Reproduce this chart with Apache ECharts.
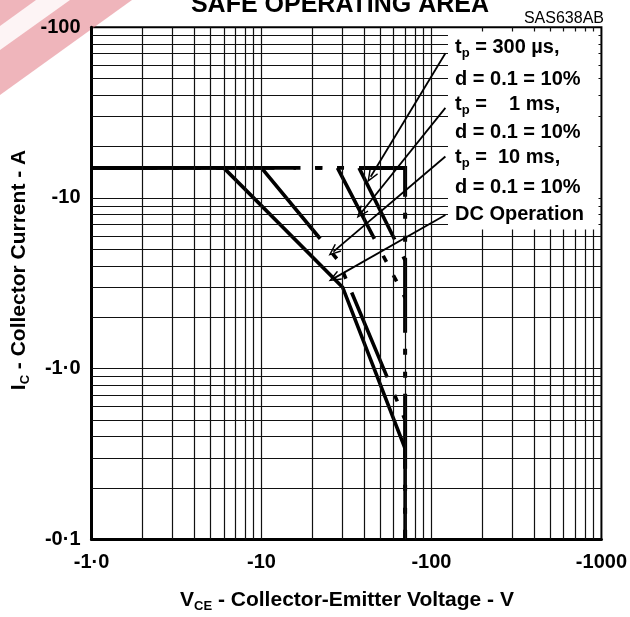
<!DOCTYPE html>
<html><head><meta charset="utf-8">
<script src="https://cdn.jsdelivr.net/npm/echarts@6/dist/echarts.min.js"></script>
<style>html,body{margin:0;padding:0;background:#fff}#c{width:630px;height:617px}</style>
</head><body><div id="c"></div>
<script>
// ---------- data (magnitudes; labels carry the minus sign) ----------
const xTickValues = [1, 10, 100, 1000];
const xTickLabels = ['-1·0', '-10', '-100', '-1000'];
const yTickValues = [0.1, 1, 10, 100];
const yTickLabels = ['-0·1', '-1·0', '-10', '-100'];

// [VCE (V), IC (A)]
const dcCurve      = [[1, 15], [6, 15], [30, 3.0], [70, 0.34], [70, 0.1]];
const tp10msCurve  = [[1, 15], [10, 15], [28.3, 4.3], [70, 0.5]];
const tp1msCurve   = [[1, 15], [28, 15], [70, 2.6]];
const tp300usCurve = [[1, 15], [37.5, 15], [70, 4.3]];
const vceoCurve    = [[37.5, 15], [70, 15], [70, 0.1]];

const arrowStarts = [[120.8, 70.4], [120.8, 33.7], [120.8, 17.5], [120.8, 7.95]];
const arrowEnds   = [[43.9, 13.3], [38.4, 8.14], [26.5, 4.85], [26.8, 3.39]];

const legendTexts = [
  '{a|t}{b|p}{a| = 300 µs,}',
  '{a|d = 0.1 = 10%}',
  '{a|t}{b|p}{a| =    1 ms,}',
  '{a|d = 0.1 = 10%}',
  '{a|t}{b|p}{a| =  10 ms,}',
  '{a|d = 0.1 = 10%}',
  '{a|DC Operation}'
];

const xGridValues = [];
for (let k = 0; k < 3; k++) for (let m = 2; m <= 10; m++) { if (k === 2 && m === 10) continue; xGridValues.push(m * Math.pow(10, k)); }
const yGridValues = [];
for (let k = -1; k < 2; k++) for (let m = 2; m <= 10; m++) { if (k === 1 && m === 10) continue; yGridValues.push(Math.round(m * Math.pow(10, k) * 10) / 10); }

// ---------- styling ----------
const FONT = 'Liberation Sans, Arial, Helvetica, sans-serif';
const PAT = [80, 19, 7, 15, 7, 15];
const PAT_B = [92, 19, 7, 15, 7, 15];
const PAT_V = [75, 16, 6, 17, 6, 16];
const dashCfg = {
  tp10ms: { data: tp10msCurve, vertex: 1, extra: 0, pat: PAT_B },
  tp1ms: { data: tp1msCurve, vertex: 1, extra: 0, pat: PAT },
  tp300us: { data: tp300usCurve, vertex: 1, extra: 0, pat: PAT },
  vceo: { data: vceoCurve, vertex: 0, extra: 0, pat: PAT_V }
};

function tickLabel(values, labels) {
  return function (v) {
    const lv = Math.round(Math.log10(v));
    for (let i = 0; i < values.length; i++) if (Math.round(Math.log10(values[i])) === lv) return labels[i];
    return '';
  };
}

const chart = echarts.init(document.getElementById('c'), null, { renderer: 'canvas' });

function curveSeries(id, data, width, pat, offset) {
  return {
    id: id, type: 'line', data: data, showSymbol: false, symbol: 'none', animation: false,
    silent: true, z: 3, clip: false,
    lineStyle: { color: '#000', width: width, type: pat || 'solid', dashOffset: offset || 0, cap: 'butt', join: 'miter' }
  };
}

const chevron = 'path://M5,0L10,12L8.7,12.7L5,3.6L1.3,12.7L0,12Z';
const richA = { fontSize: 21, fontWeight: 'bold', fontFamily: FONT, fill: '#000', lineHeight: 26 };
const richB = { fontSize: 13, fontWeight: 'bold', fontFamily: FONT, fill: '#000', lineHeight: 13, verticalAlign: 'bottom' };
const richLA = { fontSize: 20, fontWeight: 'bold', fontFamily: FONT, fill: '#000', lineHeight: 25 };
const richLB = { fontSize: 13, fontWeight: 'bold', fontFamily: FONT, fill: '#000', lineHeight: 13, verticalAlign: 'bottom' };

function buildOption(offsets) {
  return {
    animation: false,
    backgroundColor: '#fff',
    grid: { left: 91.5, right: 26.7, top: 27.3, bottom: 77.7, show: true, borderColor: '#000', borderWidth: 2, backgroundColor: 'transparent' },
    xAxis: {
      type: 'log', logBase: 10, min: 1, max: 1000,
      axisLine: { show: true, onZero: false, lineStyle: { color: '#000', width: 3 } },
      axisTick: { show: false }, splitLine: { show: false }, minorTick: { show: false },
      axisLabel: { formatter: tickLabel(xTickValues, xTickLabels), margin: 13, color: '#000', fontSize: 20, fontWeight: 'bold', fontFamily: FONT, showMinLabel: true, showMaxLabel: true }
    },
    yAxis: {
      type: 'log', logBase: 10, min: 0.1, max: 100,
      axisLine: { show: true, onZero: false, lineStyle: { color: '#000', width: 3 } },
      axisTick: { show: false }, splitLine: { show: false },
      axisLabel: { formatter: tickLabel(yTickValues, yTickLabels), margin: 11, color: '#000', fontSize: 20, fontWeight: 'bold', fontFamily: FONT, showMinLabel: true, showMaxLabel: true }
    },
    series: [
      {
        id: 'grid', type: 'line', data: [], z: 1, silent: true, animation: false,
        markLine: {
          silent: true, animation: false, symbol: ['none', 'none'], label: { show: false },
          lineStyle: { color: '#111', width: 1.2, type: 'solid' },
          data: xGridValues.map(v => ({ xAxis: v })).concat(yGridValues.map(v => ({ yAxis: v })))
        }
      },
      curveSeries('dc', dcCurve, 3.6),
      curveSeries('tp10ms', tp10msCurve, 3.6, PAT_B, offsets.tp10ms),
      curveSeries('tp1ms', tp1msCurve, 3.6, PAT, offsets.tp1ms),
      curveSeries('tp300us', tp300usCurve, 3.6, PAT, offsets.tp300us),
      curveSeries('vceo', vceoCurve, 4, PAT_V, offsets.vceo),
      {
        id: 'arrows', type: 'line', data: [], z: 4, silent: true, animation: false,
        markLine: {
          silent: true, animation: false, symbol: ['none', chevron], symbolSize: [10, 13],
          label: { show: false },
          lineStyle: { color: '#000', width: 1.8, type: 'solid' },
          data: arrowStarts.map((s, i) => [{ coord: s }, { coord: arrowEnds[i] }])
        }
      }
    ],
    graphic: [
      // watermark
      { type: 'polygon', z: 0, silent: true, shape: { points: [[0, 0], [132, 0], [0, 95]] }, style: { fill: 'rgba(226,120,132,0.55)' } },
      { type: 'polygon', z: 0, silent: true, shape: { points: [[36, 0], [70, 0], [0, 50], [0, 26]] }, style: { fill: 'rgba(255,255,255,0.85)' } },
      // white label box
      { type: 'rect', z: 100, silent: true, shape: { x: 448, y: 31.5, width: 150.5, height: 198 }, style: { fill: '#fff' } },
      // legend texts
      ...legendTexts.map((t, i) => ({
        type: 'text', z: 101, silent: true, x: 455, y: [47, 79, 104, 132, 157, 187, 214][i],
        style: { text: t, verticalAlign: 'middle', align: 'left', rich: { a: richLA, b: richLB } }
      })),
      // title (cut at top)
      { type: 'text', z: 101, silent: true, x: 340, y: 5, style: { text: 'SAFE OPERATING AREA', align: 'center', verticalAlign: 'middle', font: 'bold 25px ' + FONT, fill: '#000' } },
      { type: 'text', z: 101, silent: true, x: 604, y: 19, style: { text: 'SAS638AB', align: 'right', verticalAlign: 'middle', font: '16px ' + FONT, fill: '#000' } },
      // axis names
      {
        type: 'text', z: 101, silent: true, x: 347, y: 600,
        style: { text: '{a|V}{b|CE}{a| - Collector-Emitter Voltage - V}', align: 'center', verticalAlign: 'middle', rich: { a: richA, b: richB } }
      },
      {
        type: 'text', z: 101, silent: true, x: 19, y: 270, rotation: Math.PI / 2,
        style: { text: '{a|I}{b|C}{a| - Collector Current - A}', align: 'center', verticalAlign: 'middle', rich: { a: richA, b: richB } }
      }
    ]
  };
}

chart.setOption(buildOption({}));
// align dash patterns so the long dashes start where the reference shows them
const offsets = {};
Object.keys(dashCfg).forEach(k => {
  const c = dashCfg[k];
  let L = 0;
  for (let i = 1; i <= c.vertex; i++) {
    const p0 = chart.convertToPixel({ gridIndex: 0 }, c.data[i - 1]);
    const p1 = chart.convertToPixel({ gridIndex: 0 }, c.data[i]);
    L += Math.hypot(p1[0] - p0[0], p1[1] - p0[1]);
  }
  L += c.extra;
  const P = c.pat.reduce((a, b) => a + b, 0);
  offsets[k] = (P - (L % P)) % P;
});
chart.setOption(buildOption(offsets), true);
</script>
</body></html>
